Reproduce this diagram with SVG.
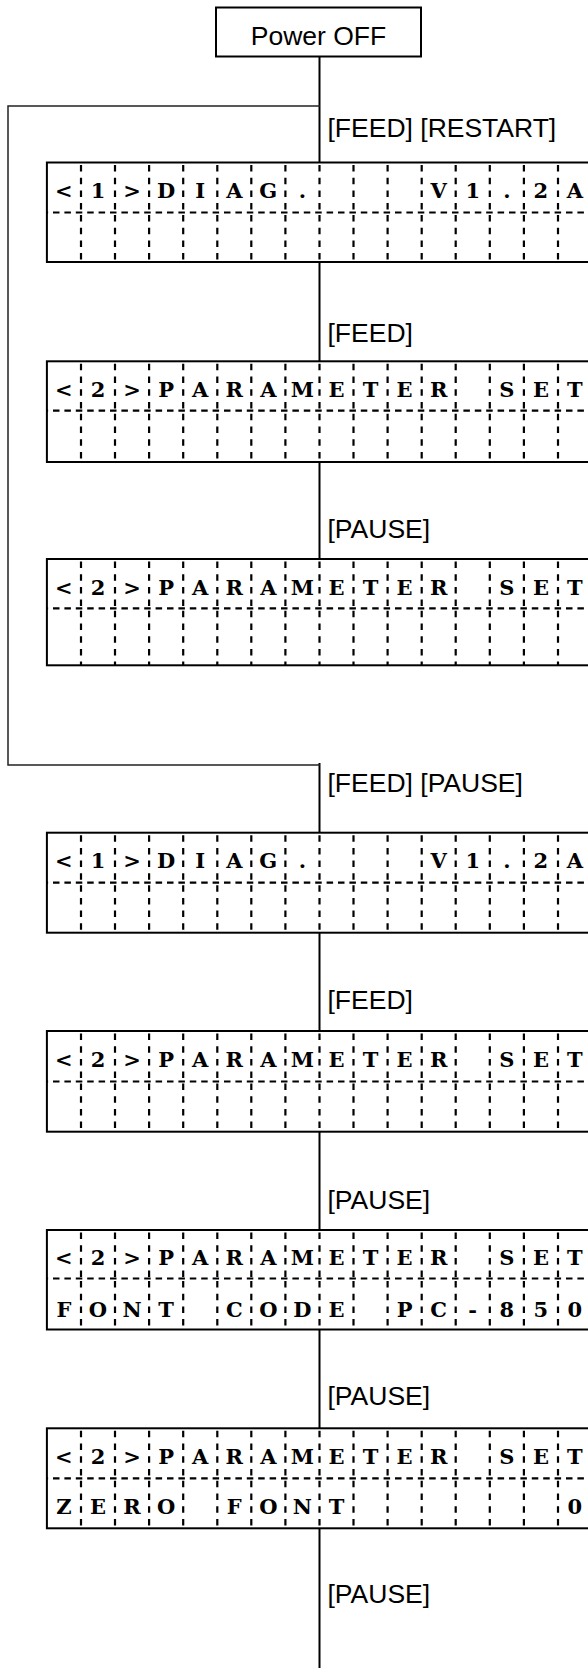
<svg xmlns="http://www.w3.org/2000/svg" width="588" height="1668" viewBox="0 0 588 1668">
<style>
.lbl{font-family:"Liberation Sans",Arial,sans-serif;font-size:26.5px;fill:#000}
.lcd{font-family:"DejaVu Serif","Liberation Serif",serif;font-size:21px;font-weight:bold;fill:#000;text-anchor:middle;white-space:pre}
.frame{fill:#fff;stroke:#000;stroke-width:2}
.hdash{stroke:#000;stroke-width:2.2;stroke-dasharray:6.5 4.9;stroke-dashoffset:-6;fill:none}
.vdash{stroke:#000;stroke-width:2.2;stroke-dasharray:6.5 6.2;stroke-dashoffset:-2.5;fill:none}
.conn{stroke:#000;stroke-width:2;fill:none}
.loop{stroke:#222;stroke-width:1.5;fill:none}
</style>
<defs>
<path id="v50" class="vdash" d="M81,0v49.5M115,0v49.5M149.1,0v49.5M183.2,0v49.5M217.3,0v49.5M251.3,0v49.5M285.4,0v49.5M319.5,0v49.5M353.5,0v49.5M387.6,0v49.5M421.7,0v49.5M455.7,0v49.5M489.8,0v49.5M523.9,0v49.5M558,0v49.5"/>
<path id="v57" class="vdash" d="M81,0v57M115,0v57M149.1,0v57M183.2,0v57M217.3,0v57M251.3,0v57M285.4,0v57M319.5,0v57M353.5,0v57M387.6,0v57M421.7,0v57M455.7,0v57M489.8,0v57M523.9,0v57M558,0v57"/>
</defs>

<g id="connectors">
<path class="conn" d="M319.5,56.7V162.5M319.5,262V361.3M319.5,462V559M319.5,763V832.7M319.5,932.7V1031M319.5,1131.7V1230M319.5,1330V1428.3M319.5,1528.3V1668"/>
<path class="loop" d="M320,106H8V765H320"/>
</g>

<g id="labels">
<text class="lbl" x="327.5" y="137">[FEED] [RESTART]</text>
<text class="lbl" x="327.5" y="341.5">[FEED]</text>
<text class="lbl" x="327.5" y="538">[PAUSE]</text>
<text class="lbl" x="327.5" y="791.7">[FEED] [PAUSE]</text>
<text class="lbl" x="327.5" y="1009.3">[FEED]</text>
<text class="lbl" x="327.5" y="1209.3">[PAUSE]</text>
<text class="lbl" x="327.5" y="1405">[PAUSE]</text>
<text class="lbl" x="327.5" y="1603">[PAUSE]</text>
</g>

<g id="power-off">
<rect class="frame" x="216" y="7.5" width="205" height="49"/>
<text class="lbl" x="318.5" y="45" text-anchor="middle">Power OFF</text>
</g>

<g id="box1" transform="translate(0,162.5)">
<rect class="frame" x="46.9" y="0" width="560" height="99.5"/>
<use href="#v50" y="0"/><use href="#v50" y="50"/>
<line class="hdash" x1="47" y1="50" x2="600" y2="50"/>
<text class="lcd" xml:space="preserve" x="63.9 98 132.1 166.1 200.2 234.3 268.3 302.4 336.5 370.5 404.6 438.7 472.7 506.8 540.9 574.9" y="35.5">&lt;1&gt;DIAG.   V1.2A</text>
</g>

<g id="box2" transform="translate(0,361.3)">
<rect class="frame" x="46.9" y="0" width="560" height="100.7"/>
<use href="#v50" y="0"/><use href="#v50" y="50"/>
<line class="hdash" x1="47" y1="49.4" x2="600" y2="49.4"/>
<text class="lcd" xml:space="preserve" x="63.9 98 132.1 166.1 200.2 234.3 268.3 302.4 336.5 370.5 404.6 438.7 472.7 506.8 540.9 574.9" y="35.5">&lt;2&gt;PARAMETER SET</text>
</g>

<g id="box3" transform="translate(0,559)">
<rect class="frame" x="46.9" y="0" width="560" height="106.3"/>
<use href="#v50" y="0"/><use href="#v57" y="49.3"/>
<line class="hdash" x1="47" y1="49.3" x2="600" y2="49.3"/>
<text class="lcd" xml:space="preserve" x="63.9 98 132.1 166.1 200.2 234.3 268.3 302.4 336.5 370.5 404.6 438.7 472.7 506.8 540.9 574.9" y="35.5">&lt;2&gt;PARAMETER SET</text>
</g>

<g id="box4" transform="translate(0,832.7)">
<rect class="frame" x="46.9" y="0" width="560" height="100"/>
<use href="#v50" y="0"/><use href="#v50" y="50"/>
<line class="hdash" x1="47" y1="50" x2="600" y2="50"/>
<text class="lcd" xml:space="preserve" x="63.9 98 132.1 166.1 200.2 234.3 268.3 302.4 336.5 370.5 404.6 438.7 472.7 506.8 540.9 574.9" y="35.5">&lt;1&gt;DIAG.   V1.2A</text>
</g>

<g id="box5" transform="translate(0,1031)">
<rect class="frame" x="46.9" y="0" width="560" height="100.7"/>
<use href="#v50" y="0"/><use href="#v50" y="50"/>
<line class="hdash" x1="47" y1="50.5" x2="600" y2="50.5"/>
<text class="lcd" xml:space="preserve" x="63.9 98 132.1 166.1 200.2 234.3 268.3 302.4 336.5 370.5 404.6 438.7 472.7 506.8 540.9 574.9" y="36">&lt;2&gt;PARAMETER SET</text>
</g>

<g id="box6" transform="translate(0,1230)">
<rect class="frame" x="46.9" y="0" width="560" height="99.5"/>
<use href="#v50" y="0"/><use href="#v50" y="48.5"/>
<line class="hdash" x1="47" y1="48.5" x2="600" y2="48.5"/>
<text class="lcd" xml:space="preserve" x="63.9 98 132.1 166.1 200.2 234.3 268.3 302.4 336.5 370.5 404.6 438.7 472.7 506.8 540.9 574.9" y="34.5">&lt;2&gt;PARAMETER SET</text>
<text class="lcd" xml:space="preserve" x="63.9 98 132.1 166.1 200.2 234.3 268.3 302.4 336.5 370.5 404.6 438.7 472.7 506.8 540.9 574.9" y="87">FONT CODE PC-850</text>
</g>

<g id="box7" transform="translate(0,1428.3)">
<rect class="frame" x="46.9" y="0" width="560" height="100"/>
<use href="#v50" y="0"/><use href="#v50" y="50"/>
<line class="hdash" x1="47" y1="50" x2="600" y2="50"/>
<text class="lcd" xml:space="preserve" x="63.9 98 132.1 166.1 200.2 234.3 268.3 302.4 336.5 370.5 404.6 438.7 472.7 506.8 540.9 574.9" y="35.5">&lt;2&gt;PARAMETER SET</text>
<text class="lcd" xml:space="preserve" x="63.9 98 132.1 166.1 200.2 234.3 268.3 302.4 336.5 370.5 404.6 438.7 472.7 506.8 540.9 574.9" y="86">ZERO FONT      0</text>
</g>
</svg>
